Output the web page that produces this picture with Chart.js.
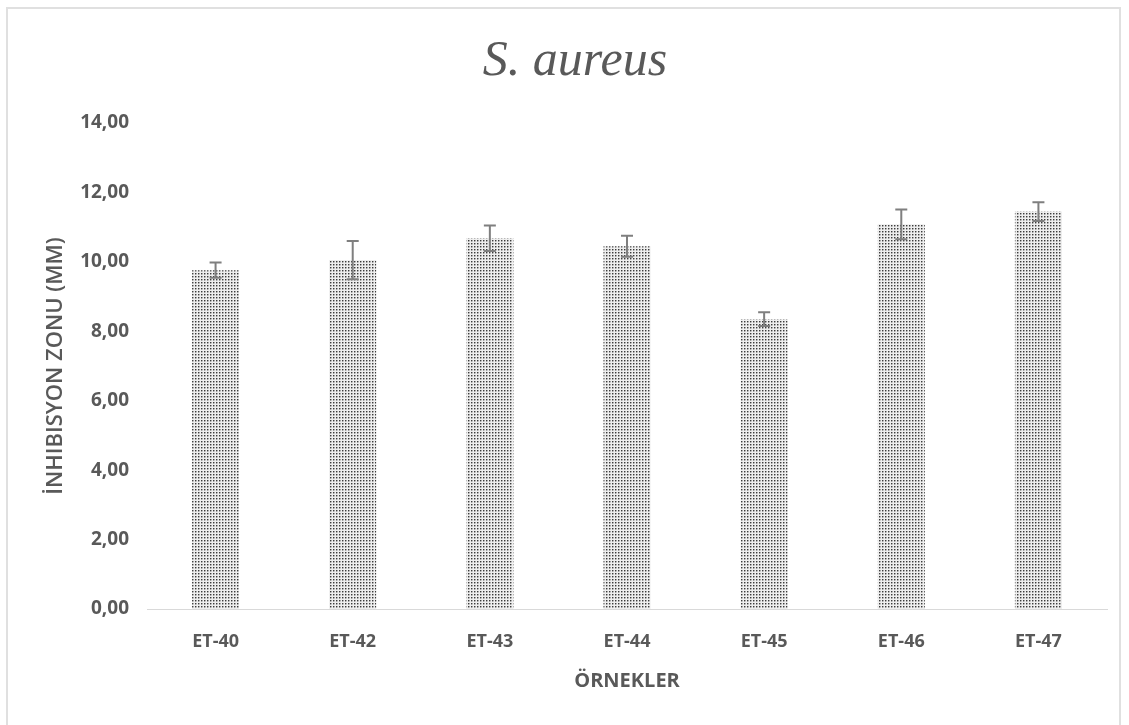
<!DOCTYPE html>
<html>
<head>
<meta charset="utf-8">
<script src="https://cdn.jsdelivr.net/npm/chart.js@4.4.1/dist/chart.umd.min.js"></script>
<style>
  html, body { margin: 0; padding: 0; background: #fff; }
  #wrap { position: relative; width: 1129px; height: 725px; overflow: hidden; }
  #frame { position: absolute; left: 6px; top: 7px; width: 1115px; height: 740px;
           border: 2px solid #e0e0e0; box-sizing: border-box; }
  canvas { position: absolute; left: 0; top: 0; }
</style>
</head>
<body>
<div id="wrap">
  <div id="frame"></div>
  <canvas id="myChart" width="1129" height="725"></canvas>
</div>
<script>
// data
const samples = ['ET-40', 'ET-42', 'ET-43', 'ET-44', 'ET-45', 'ET-46', 'ET-47'];
const zoneMeans = [9.76, 10.05, 10.68, 10.45, 8.35, 11.08, 11.45];
const zoneErrors = [0.22, 0.55, 0.37, 0.30, 0.20, 0.43, 0.27];
const yTicks = [0, 2, 4, 6, 8, 10, 12, 14];

const textGrey = '#595959';

// dotted fill like the original bars
function makeDots() {
  const c = document.createElement('canvas');
  c.width = 3;
  c.height = 3;
  const g = c.getContext('2d');
  g.fillStyle = '#eeeeee';
  g.fillRect(0, 0, 3, 3);
  g.fillStyle = '#a0a0a0';
  g.fillRect(1, 0, 1, 1);
  g.fillRect(0, 1, 1, 1);
  g.fillStyle = '#d0d0d0';
  g.fillRect(1, 1, 1, 1);
  g.fillStyle = '#3c3c3c';
  g.fillRect(0, 0, 1, 1);
  return g.createPattern(c, 'repeat');
}

// error bars drawn on top of each bar using the y scale
const errorBars = {
  id: 'errorBars',
  afterDatasetsDraw(chart) {
    const ctx = chart.ctx;
    const y = chart.scales.y;
    const meta = chart.getDatasetMeta(0);
    ctx.save();
    ctx.strokeStyle = '#7f7f7f';
    ctx.lineWidth = 2;
    meta.data.forEach((bar, i) => {
      const top = y.getPixelForValue(zoneMeans[i] + zoneErrors[i]);
      const bottom = y.getPixelForValue(zoneMeans[i] - zoneErrors[i]);
      ctx.beginPath();
      ctx.moveTo(bar.x, top);
      ctx.lineTo(bar.x, bottom);
      ctx.moveTo(bar.x - 6, top);
      ctx.lineTo(bar.x + 6, top);
      ctx.moveTo(bar.x - 6, bottom);
      ctx.lineTo(bar.x + 6, bottom);
      ctx.stroke();
    });
    ctx.restore();
  }
};

const ctx = document.getElementById('myChart').getContext('2d');
const myChart = new Chart(ctx, {
  type: 'bar',
  data: {
    labels: samples,
    datasets: [{
      data: zoneMeans,
      backgroundColor: makeDots(),
      borderWidth: 0,
      barPercentage: 0.343,
      categoryPercentage: 1
    }]
  },
  plugins: [errorBars],
  options: {
    responsive: false,
    animation: false,
    layout: { padding: { left: 43, right: 22, top: 0, bottom: 32 } },
    plugins: {
      legend: { display: false },
      tooltip: { enabled: false },
      title: {
        display: true,
        text: 'S. aureus',
        color: textGrey,
        font: { family: 'Liberation Serif', style: 'italic', size: 50, weight: 'normal', lineHeight: 1.2 },
        padding: { top: 32, bottom: 31 }
      }
    },
    scales: {
      x: {
        grid: { display: false, drawTicks: false },
        border: { color: '#d9d9d9', width: 1 },
        ticks: { color: textGrey, font: { family: 'Open Sans', size: 18, weight: 'bold' }, padding: 22 },
        title: {
          display: true,
          text: 'ÖRNEKLER',
          color: textGrey,
          font: { family: 'Open Sans', size: 20, weight: 'bold', lineHeight: 1.2 },
          padding: 0
        },
        afterFit(scale) { scale.height = 84; }
      },
      y: {
        min: 0,
        max: 14,
        afterBuildTicks(scale) { scale.ticks = yTicks.map(v => ({ value: v })); },
        grid: { display: false, drawTicks: false },
        border: { display: false },
        ticks: {
          color: textGrey,
          font: { family: 'Open Sans', size: 19, weight: 'bold' },
          padding: 18,
          callback: v => v.toFixed(2).replace('.', ',')
        },
        title: {
          display: true,
          text: 'İNHIBISYON ZONU (MM)',
          color: textGrey,
          font: { family: 'Open Sans', size: 22, weight: '600', lineHeight: 1.2 },
          padding: 0
        },
        afterFit(scale) { scale.width = 104; }
      }
    }
  }
});
</script>
</body>
</html>
